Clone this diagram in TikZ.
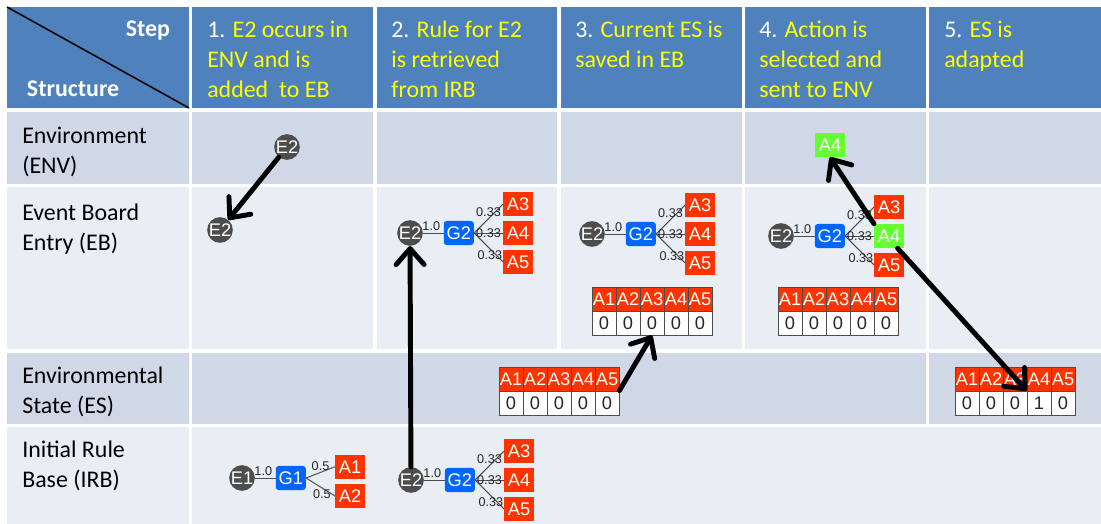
\documentclass[tikz,border=0pt]{standalone}
\usepackage{fontspec}
\setmainfont{Carlito}
\newfontfamily\boxfont{Liberation Sans}
\usetikzlibrary{arrows.meta,positioning}

\definecolor{hdrblue}{RGB}{79,129,189}
\definecolor{rowdark}{RGB}{208,216,232}
\definecolor{rowlight}{RGB}{233,237,244}
\definecolor{evgray}{RGB}{77,77,77}
\definecolor{goalblue}{RGB}{0,102,255}
\definecolor{actred}{RGB}{255,51,0}
\definecolor{actgreen}{RGB}{102,255,51}
\definecolor{hdryellow}{RGB}{255,255,0}

\tikzset{
  event/.style={circle,fill=evgray,text=white,minimum size=0.62cm,inner sep=0pt,
    font=\boxfont\fontsize{13}{13}\selectfont},
  goal/.style={rectangle,rounded corners=2pt,fill=goalblue,text=white,minimum width=0.75cm,
    minimum height=0.6cm,inner sep=0pt,font=\boxfont\fontsize{13}{13}\selectfont},
  act/.style={rectangle,fill=actred,text=white,minimum width=0.74cm,minimum height=0.6cm,
    inner sep=0pt,font=\boxfont\fontsize{13}{13}\selectfont},
  actsel/.style={act,fill=actgreen},
  link/.style={draw=evgray,line width=0.7pt},
  weight/.style={font=\boxfont\fontsize{9}{9}\selectfont,text=black!85,inner sep=1pt},
  hcell/.style={act,draw=evgray,line width=0.6pt,minimum width=0.6cm},
  vcell/.style={hcell,fill=white,text=black!85},
  flow/.style={line width=3.5pt,line cap=round,
    -{Straight Barb[length=0.4cm,width=0.7cm,round]}},
  hdrtext/.style={anchor=north west,align=left,inner sep=0pt,text=hdryellow,
    font=\fontsize{17}{21.3}\selectfont},
  rowtext/.style={anchor=north west,align=left,inner sep=0pt,text=black,
    font=\fontsize{17}{21.3}\selectfont},
}

\begin{document}
\begin{tikzpicture}[x=0.025cm,y=-0.025cm,on grid]
\useasboundingbox (0,0) rectangle (1101,524);

% table cells
\foreach \xa/\xb in {7/189,192/373,377/557,561/742,745/926,929/1101} {
  \fill[hdrblue] (\xa,7) rectangle (\xb,108);
  \fill[rowdark] (\xa,112) rectangle (\xb,184);
  \fill[rowlight] (\xa,187) rectangle (\xb,349);
}
\foreach \xa/\xb in {7/189,192/926,929/1101}
  \fill[rowdark] (\xa,353) rectangle (\xb,424);
\foreach \xa/\xb in {7/189,192/1101}
  \fill[rowlight] (\xa,427) rectangle (\xb,524);
\draw[line width=1.1pt] (7,7) -- (189,108);

% headings
\node[anchor=base east,text=white,font=\fontsize{17}{21.3}\selectfont\bfseries] (step) at (175,37) {Step};
\node[anchor=base west,text=white,font=\fontsize{17}{21.3}\selectfont\bfseries] (struct) at (22,97) {Structure};
\node[hdrtext] (h1) at (207,16) {\strut{\color{white}1.} E2 occurs in\\ENV and is\\added\ \ to EB};
\node[hdrtext] (h2) at (391,16) {\strut{\color{white}2.} Rule for E2\\is retrieved\\from IRB};
\node[hdrtext] (h3) at (575,16) {\strut{\color{white}3.} Current ES is\\saved in EB};
\node[hdrtext] (h4) at (759,16) {\strut{\color{white}4.} Action is\\selected and\\sent to ENV};
\node[hdrtext] (h5) at (944,16) {\strut{\color{white}5.} ES is\\adapted};

\node[rowtext] (env) at (22,122) {\strut Environment\\(ENV)};
\node[rowtext] (eb) at (22,199) {\strut Event Board\\Entry (EB)};
\node[rowtext] (es) at (22,362) {\strut Environmental\\State (ES)};
\node[rowtext] (irb) at (22,436) {\strut Initial Rule\\Base (IRB)};

% step 1
\node[event] (e2env) at (287,147) {E2};
\node[event] (e2eb1) at (220,230) {E2};

% rule for E1
\node[event] (e1irb) at (242,478) {E1};
\node[goal] (g1irb) [right=1.22cm of e1irb] {G1};
\node[act] (a1irb) [above right=0.28cm and 1.48cm of g1irb] {A1};
\node[act] (a2irb) [below right=0.45cm and 1.48cm of g1irb] {A2};
\draw[link] (e1irb) -- node[weight,pos=0.4,above]{1.0} (g1irb);
\draw[link] (g1irb.east) -- node[weight,above]{0.5} (a1irb.west);
\draw[link] (g1irb.east) -- node[weight,pos=0.55,below]{0.5} (a2irb.west);

% rules for E2
\foreach \t/\x/\y/\sty in {eb2/410/233/act,eb3/592/234/act,eb4/781/236/actsel,irb2/411/480/act} {
  \node[event] (e2\t) at (\x,\y) {E2};
  \node[goal] (g2\t) [right=1.22cm of e2\t] {G2};
  \node[\sty] (a4\t) [right=1.48cm of g2\t] {A4};
  \node[act] (a3\t) [above=0.72cm of a4\t] {A3};
  \node[act] (a5\t) [below=0.72cm of a4\t] {A5};
  \draw[link] (e2\t) -- node[weight,pos=0.4,above]{1.0} (g2\t);
  \draw[link] (g2\t.east) -- node[weight,above]{0.33} (a3\t.west);
  \draw[link] (g2\t.east) -- node[weight]{0.33} (a4\t.west);
  \draw[link] (g2\t.east) -- node[weight,pos=0.55,below]{0.33} (a5\t.west);
}
\node[actsel] (a4env) at (830,145) {A4};

% state vectors
\foreach \t/\x/\y in {eb3/580/299,eb4/766/299,es/487/379} {
  \foreach \i in {1,...,5} {
    \node[hcell] (\t-h\i) at (\x+24*\i,\y) {A\i};
    \node[vcell] (\t-v\i) at (\x+24*\i,\y+24) {0};
  }
}
\foreach \i/\v in {1/0,2/0,3/0,4/1,5/0} {
  \node[hcell] (es5-h\i) at (943+24*\i,379) {A\i};
  \node[vcell] (es5-v\i) at (943+24*\i,403) {\v};
}

% steps
\draw[flow] (e2env) -- (e2eb1);
\draw[flow] (e2irb2) -- (e2eb2);
\draw[flow] (es-v5.north east) -- (eb3-v3.south);
\draw[flow] (a4eb4.north west) -- (a4env.south);
\draw[flow] (a4eb4.-55) -- (es5-v4.north west);
\end{tikzpicture}
\end{document}
